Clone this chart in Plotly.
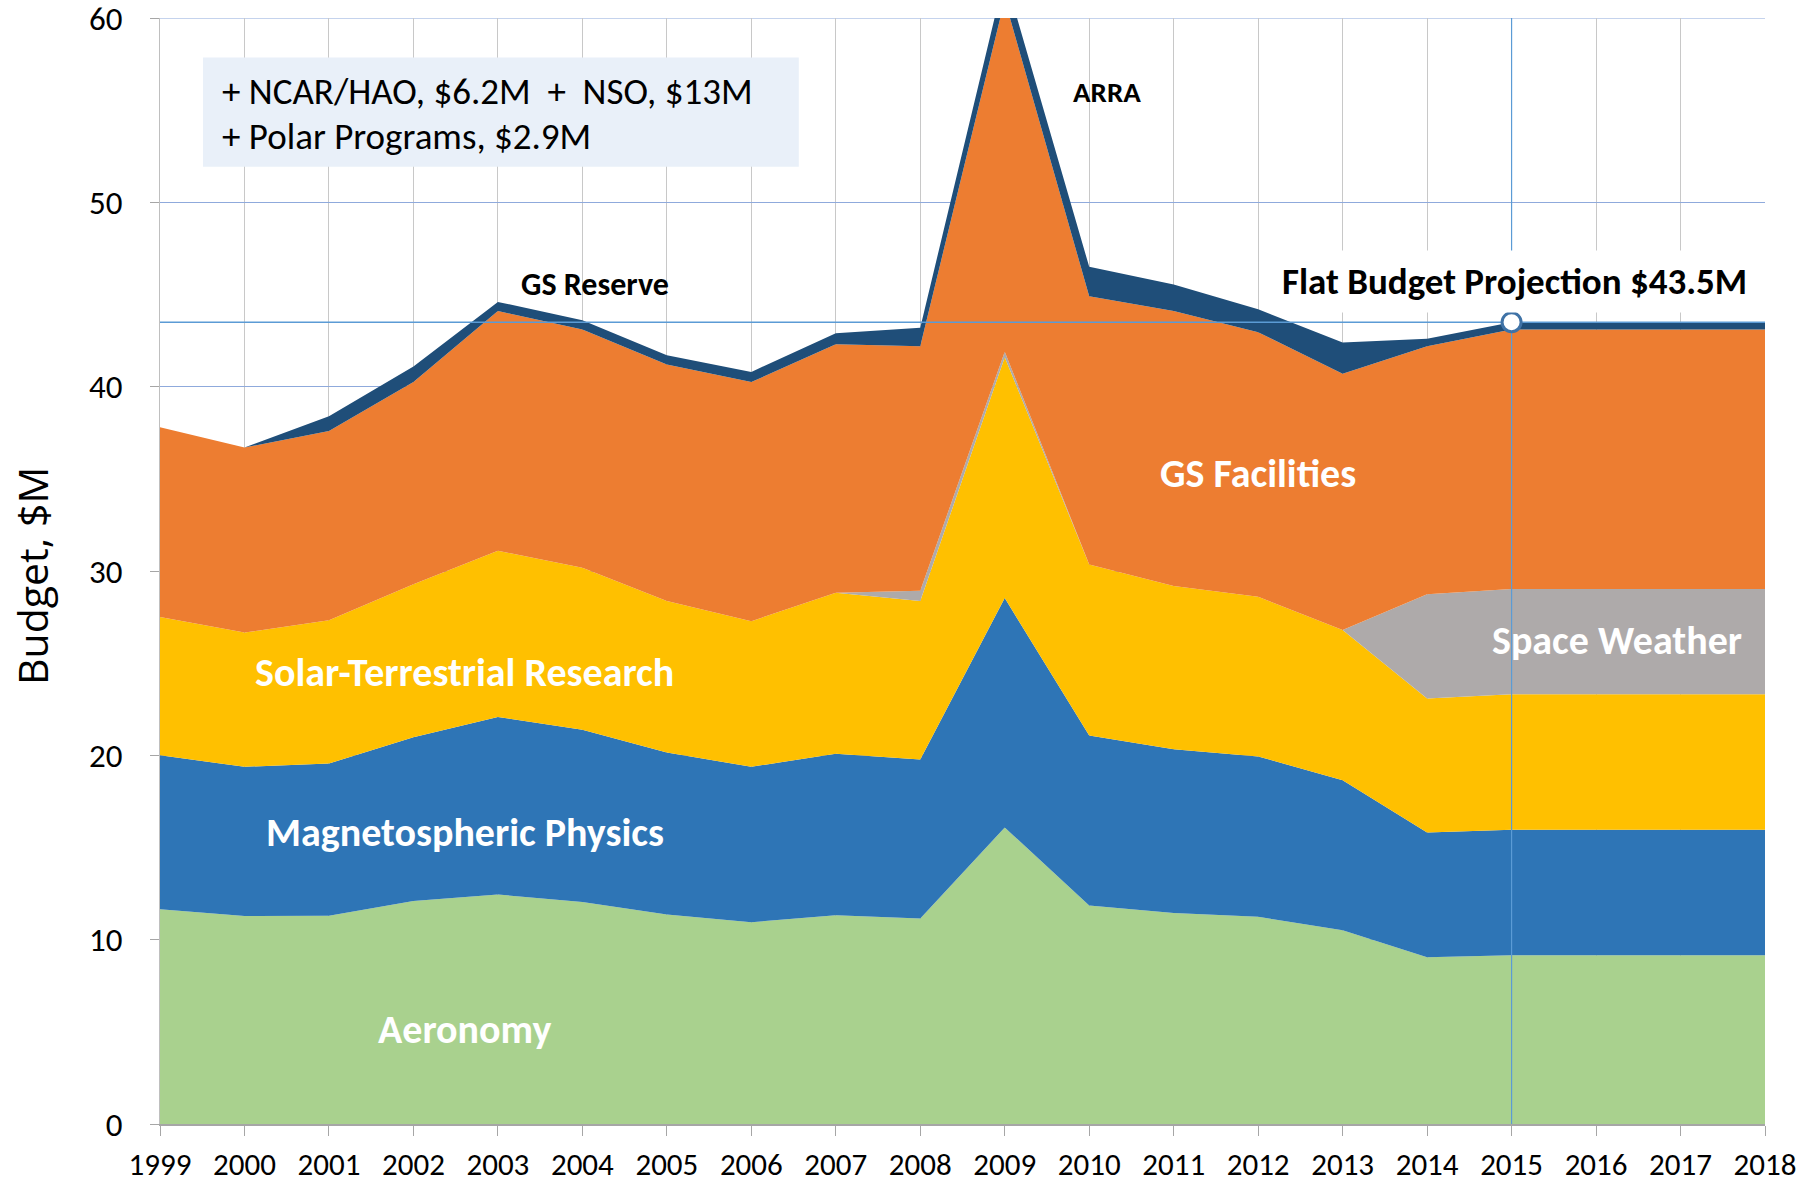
import plotly.graph_objects as go

# ---------------- data ----------------
years = list(range(1999, 2019))
aeronomy = [11.65, 11.28, 11.30, 12.10, 12.45, 12.05, 11.36, 10.95, 11.32, 11.15,
            16.09, 11.86, 11.45, 11.24, 10.51, 9.05, 9.16, 9.16, 9.16, 9.16]
magnetospheric = [8.35, 8.10, 8.26, 8.88, 9.63, 9.34, 8.79, 8.43, 8.76, 8.62,
                  12.44, 9.22, 8.88, 8.70, 8.14, 6.77, 6.80, 6.80, 6.80, 6.80]
solar_terrestrial = [7.50, 7.28, 7.77, 8.30, 9.02, 8.79, 8.22, 7.90, 8.74, 8.60,
                     13.07, 9.27, 8.85, 8.66, 8.15, 7.26, 7.35, 7.35, 7.35, 7.35]
space_weather = [0, 0, 0, 0, 0, 0, 0, 0, 0, 0.56,
                 0.30, 0, 0, 0, 0, 5.66, 5.72, 5.72, 5.72, 5.72]
gs_facilities = [10.30, 10.04, 10.27, 10.97, 13.00, 12.92, 12.83, 12.97, 13.48, 13.27,
                 19.10, 14.55, 14.92, 14.35, 13.90, 13.46, 14.07, 14.07, 14.07, 14.07]
gs_reserve = [0, 0, 0.80, 0.85, 0.50, 0.50, 0.50, 0.55, 0.60, 1.00,
              1.30, 1.60, 1.45, 1.25, 1.70, 0.40, 0.40, 0.40, 0.40, 0.40]

flat_budget = 43.5
projection_year = 2015
y_ticks = [0, 10, 20, 30, 40, 50, 60]
y_max = 60

series = [
    ("Aeronomy", aeronomy, "#A9D18E"),
    ("Magnetospheric Physics", magnetospheric, "#2E75B6"),
    ("Solar-Terrestrial Research", solar_terrestrial, "#FFC000"),
    ("Space Weather", space_weather, "#AEAAAA"),
    ("GS Facilities", gs_facilities, "#ED7D31"),
    ("GS Reserve", gs_reserve, "#1F4E79"),
]

FONT = "Carlito, Calibri, Lato, sans-serif"

fig = go.Figure()
for name, vals, col in series:
    fig.add_trace(go.Scatter(
        x=years, y=vals, name=name, stackgroup="one", mode="lines",
        line=dict(width=0, color=col), fillcolor=col, hoverinfo="x+y+name"))

# flat budget reference lines (drawn as traces so the marker sits on top)
fig.add_trace(go.Scatter(
    x=[years[0], years[-1]], y=[flat_budget, flat_budget], mode="lines",
    line=dict(color="#5B9BD5", width=1.5), showlegend=False, hoverinfo="skip"))
fig.add_trace(go.Scatter(
    x=[projection_year, projection_year], y=[0, y_max], mode="lines",
    line=dict(color="#5B9BD5", width=1.2), showlegend=False, hoverinfo="skip",
    cliponaxis=False))
fig.add_trace(go.Scatter(
    x=[projection_year], y=[flat_budget], mode="markers",
    marker=dict(size=19, color="white", line=dict(color="#3F72A6", width=3)),
    showlegend=False, hoverinfo="skip"))

# top gridline at the axis maximum
fig.add_shape(type="line", xref="paper", yref="y", x0=0, x1=1, y0=y_max, y1=y_max,
              line=dict(color="#8FAADC", width=1), layer="below")

# info box
fig.add_shape(type="rect", xref="paper", yref="paper", x0=0.0268, x1=0.398,
              y0=0.8656, y1=0.9643, fillcolor="#E9F0F9", line=dict(width=0),
              layer="above")
fig.add_annotation(xref="paper", yref="paper", x=0.0374, y=0.9335, xanchor="left",
                   yanchor="middle", showarrow=False,
                   text="+ NCAR/HAO, $6.2M  +  NSO, $13M",
                   font=dict(family=FONT, size=37, color="black"))
fig.add_annotation(xref="paper", yref="paper", x=0.0374, y=0.8928, xanchor="left",
                   yanchor="middle", showarrow=False,
                   text="+ Polar Programs, $2.9M",
                   font=dict(family=FONT, size=37, color="black"))

def lab(x, y, text, size, color="black", bg=None):
    fig.add_annotation(x=x, y=y, xref="x", yref="y", text="<b>%s</b>" % text,
                       showarrow=False, xanchor="center", yanchor="middle",
                       font=dict(family=FONT, size=size, color=color),
                       bgcolor=bg, borderpad=8 if bg else 0)

lab(2004.15, 45.53, "GS Reserve", 32)
lab(2010.21, 55.97, "ARRA", 29)
lab(2015.04, 45.7, "Flat Budget Projection $43.5M", 37, bg="white")
lab(2012.0, 35.27, "GS Facilities", 40, "white")
lab(2016.25, 26.25, "Space Weather", 40, "white")
lab(2002.61, 24.52, "Solar-Terrestrial Research", 40, "white")
lab(2002.61, 15.84, "Magnetospheric Physics", 40, "white")
lab(2002.61, 5.1, "Aeronomy", 40, "white")

fig.add_annotation(xref="paper", yref="paper", x=-0.0798, y=0.4955, textangle=-90,
                   text="Budget, $M", showarrow=False, xanchor="center", yanchor="middle",
                   font=dict(family="Open Sans, sans-serif", size=41, color="black"))

fig.update_xaxes(range=[years[0], years[-1]], tickmode="array", tickvals=years,
                 ticktext=[str(y) for y in years], automargin=False,
                 showgrid=True, gridcolor="#C8C8C8", gridwidth=1,
                 showline=True, linecolor="#A6A6A6", linewidth=1.5,
                 ticks="outside", ticklen=10, tickcolor="#A6A6A6",
                 ticklabelstandoff=2, ticklabeloverflow="allow",
                 tickfont=dict(family=FONT, size=31, color="black"), zeroline=False)
fig.update_yaxes(range=[0, y_max + 0.001], tickmode="array", tickvals=y_ticks,
                 automargin=False, ticklabeloverflow="allow",
                 showgrid=True, gridcolor="#8FAADC", gridwidth=1,
                 showline=True, linecolor="#BFBFBF", linewidth=1,
                 ticks="outside", ticklen=9, tickcolor="#A6A6A6",
                 ticklabelstandoff=21,
                 tickfont=dict(family=FONT, size=33, color="black"), zeroline=False)

fig.update_layout(width=1818, height=1182, showlegend=False,
                  margin=dict(l=160, r=53, t=18, b=58, pad=0, autoexpand=False),
                  paper_bgcolor="white", plot_bgcolor="white")

fig.write_html("out.html", config={"displayModeBar": False},
               post_script="document.body.style.margin='0px';")
